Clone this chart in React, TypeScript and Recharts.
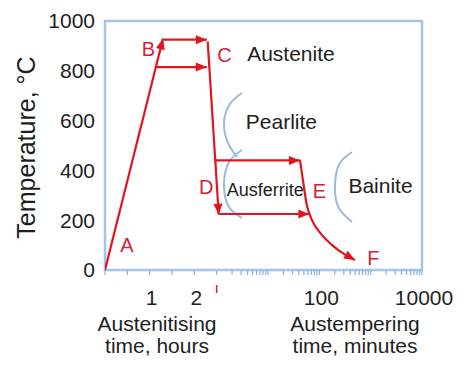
import { LineChart, Line, XAxis, YAxis, ReferenceArea, ReferenceDot } from "recharts";

// composite time axis: linear hours up to 2.5 h, then log10 minutes
const HOUR_END = 2.5;
const DECADE = 1.15;
const hr = (h: number) => h;
const min = (m: number) => HOUR_END + Math.log10(m) * DECADE;
const X_MAX = min(10000);

const RED = "#e3141c";
const LETTER = "#cf2433";
const BLUE = "#a3c4ee";
const ARC = "#9cb9df";
const INK = "#1e1e1e";
const FONT = "'Liberation Sans', Arial, Helvetica, sans-serif";

const yTicks = [0, 200, 400, 600, 800, 1000];
const hourTicks = [0, 0.5, 1, 1.5, 2];
const minuteTicks = [
  1, 2, 3, 4, 5, 6, 7, 8, 9,
  10, 20, 30, 40, 50, 60, 70, 80, 90,
  100, 200, 300, 400, 500, 600, 700, 800, 900,
  1000, 2000, 3000, 4000, 5000, 6000, 7000, 8000, 9000,
  10000,
];
const hourLabels = [1, 2];
const minuteLabels = [100, 10000];

// process route (red)
const heatTime = [hr(0), hr(1.3)];
const heatTemp = [0, 930];
const holdHighTime = [hr(1.32), hr(2.28)];
const holdHighTemp = [925, 925];
const holdLowTime = [hr(1.15), hr(2.28)];
const holdLowTemp = [815, 815];
const quenchTime = [hr(2.3), min(1.1)];
const quenchTemp = [918, 222];
const austUpperTime = [hr(2.46), min(42)];
const austUpperTemp = [440, 440];
const austLowerTime = [min(1.15), min(64)];
const austLowerTemp = [225, 225];
const coolTime = [42, 48, 57, 72, 103, 177, 316, 495].map(min);
const coolTemp = [442, 360, 262, 200, 150, 100, 62, 40];

// transformation C-curves (blue)
const pearliteTime = [3.12, 1.82, 1.39, 1.67, 2.49].map(min);
const pearliteTemp = [711, 667, 590, 510, 454];
const ausferriteTime = [3.12, 1.74, 1.39, 1.74, 3.12].map(min);
const ausferriteTemp = [482, 434, 341, 253, 209];
const bainiteTime = [433, 240, 202, 240, 433].map(min);
const bainiteTemp = [474, 422, 329, 249, 193];

// annotations
const letterNames = ["A", "B", "C", "D", "E", "F"];
const letterTime = [hr(0.49), hr(0.97), min(1.42), hr(2.27), min(101), min(1135)];
const letterTemp = [100, 888, 865, 333, 317, 50];
const phaseNames = ["Austenite", "Pearlite", "Ausferrite", "Bainite"];
const phaseTime = [min(28), min(18.3), min(8.9), min(1554)];
const phaseTemp = [869, 598, 323, 339];
const phaseSize = [21, 21, 18, 21];

const zip = (xs: number[], ys: number[]) => xs.map((x, i) => ({ x, T: ys[i] }));

function arrowDot(last: number, angle: number) {
  return (props: any) => {
    const { cx, cy, index } = props;
    if (index !== last || cx == null) return <g key={`d${index}`} />;
    return (
      <polygon
        key={`a${index}`}
        points="0,0 -11,-4.5 -11,4.5"
        fill={RED}
        transform={`translate(${cx},${cy}) rotate(${angle})`}
      />
    );
  };
}

function XTick({ x, y, payload }: any) {
  const v = payload.value;
  const near = (a: number) => Math.abs(v - a) < 1e-6;
  let text: string | null = null;
  hourLabels.forEach((h) => { if (near(hr(h))) text = String(h); });
  minuteLabels.forEach((m) => { if (near(min(m))) text = String(m); });
  if (near(HOUR_END)) {
    return <line x1={x} x2={x} y1={y + 8} y2={y + 16} stroke={LETTER} strokeWidth={1.5} />;
  }
  if (!text) return <g />;
  return (
    <text x={x + 2} y={y + 28} textAnchor="middle" fontSize={21} fill={INK} fontFamily={FONT}>
      {text}
    </text>
  );
}

function XTitle({ viewBox }: any) {
  const { x, y } = viewBox;
  const common = { textAnchor: "middle" as const, fontSize: 21, fill: INK, fontFamily: FONT };
  return (
    <g>
      <text x={x + 52} y={y + 61} {...common}>Austenitising</text>
      <text x={x + 52} y={y + 83} {...common}>time, hours</text>
      <text x={x + 250} y={y + 61} {...common}>Austempering</text>
      <text x={x + 250} y={y + 83} {...common}>time, minutes</text>
    </g>
  );
}

function YTitle({ viewBox }: any) {
  const cx = viewBox.x + 35;
  const cy = viewBox.y + viewBox.height / 2 + 2;
  return (
    <text
      x={cx}
      y={cy}
      transform={`rotate(-90, ${cx}, ${cy})`}
      textAnchor="middle"
      fontSize={25}
      fill={INK}
      fontFamily={FONT}
    >
      Temperature, °C
    </text>
  );
}

const routes = [
  { id: "heat", data: zip(heatTime, heatTemp), angle: -76 },
  { id: "holdHigh", data: zip(holdHighTime, holdHighTemp), angle: 0 },
  { id: "holdLow", data: zip(holdLowTime, holdLowTemp), angle: 0 },
  { id: "quench", data: zip(quenchTime, quenchTemp), angle: 86 },
  { id: "austUpper", data: zip(austUpperTime, austUpperTemp), angle: 0 },
  { id: "austLower", data: zip(austLowerTime, austLowerTemp), angle: 0 },
  { id: "cool", data: zip(coolTime, coolTemp), angle: 30 },
];

const arcs = [
  { id: "pearlite", data: zip(pearliteTime, pearliteTemp) },
  { id: "ausferrite", data: zip(ausferriteTime, ausferriteTemp) },
  { id: "bainite", data: zip(bainiteTime, bainiteTemp) },
];

export default function App() {
  return (
    <div style={{ position: "absolute", left: 0, top: 0, background: "#fff", fontFamily: FONT }}>
      <LineChart width={474} height={367} margin={{ top: 21, right: 52, bottom: 67, left: 0 }}>
        <XAxis
          type="number"
          dataKey="x"
          domain={[0, X_MAX]}
          ticks={[...hourTicks.map(hr), ...minuteTicks.map(min)]}
          interval={0}
          tick={<XTick />}
          tickSize={5}
          tickLine={{ stroke: "#8fb4e6", strokeWidth: 1.3 }}
          axisLine={false}
          allowDataOverflow
          label={{ content: (p: any) => <XTitle {...p} /> }}
        />
        <YAxis
          type="number"
          dataKey="T"
          domain={[0, 1000]}
          ticks={yTicks}
          width={105}
          tickSize={0}
          tickMargin={10}
          tickLine={false}
          axisLine={false}
          tick={{ fontSize: 21, fill: INK, fontFamily: FONT }}
          label={{ content: (p: any) => <YTitle {...p} /> }}
        />
        <ReferenceArea x1={0} x2={X_MAX} y1={0} y2={1000} fill="none" stroke={BLUE} strokeWidth={2.5} />
        {arcs.map((a) => (
          <Line
            key={a.id}
            data={a.data}
            dataKey="T"
            type="natural"
            stroke={ARC}
            strokeWidth={2}
            dot={false}
            activeDot={false}
            isAnimationActive={false}
          />
        ))}
        {routes.map((r) => (
          <Line
            key={r.id}
            data={r.data}
            dataKey="T"
            type="monotone"
            stroke={RED}
            strokeWidth={2.2}
            dot={arrowDot(r.data.length - 1, r.angle)}
            activeDot={false}
            isAnimationActive={false}
          />
        ))}
        {letterNames.map((n, i) => (
          <ReferenceDot
            key={n}
            x={letterTime[i]}
            y={letterTemp[i]}
            r={0}
            stroke="none"
            label={{ value: n, position: "center", fill: LETTER, fontSize: 20, fontFamily: FONT }}
          />
        ))}
        {phaseNames.map((n, i) => (
          <ReferenceDot
            key={n}
            x={phaseTime[i]}
            y={phaseTemp[i]}
            r={0}
            stroke="none"
            label={{ value: n, position: "center", fill: INK, fontSize: phaseSize[i], fontFamily: FONT }}
          />
        ))}
      </LineChart>
    </div>
  );
}
